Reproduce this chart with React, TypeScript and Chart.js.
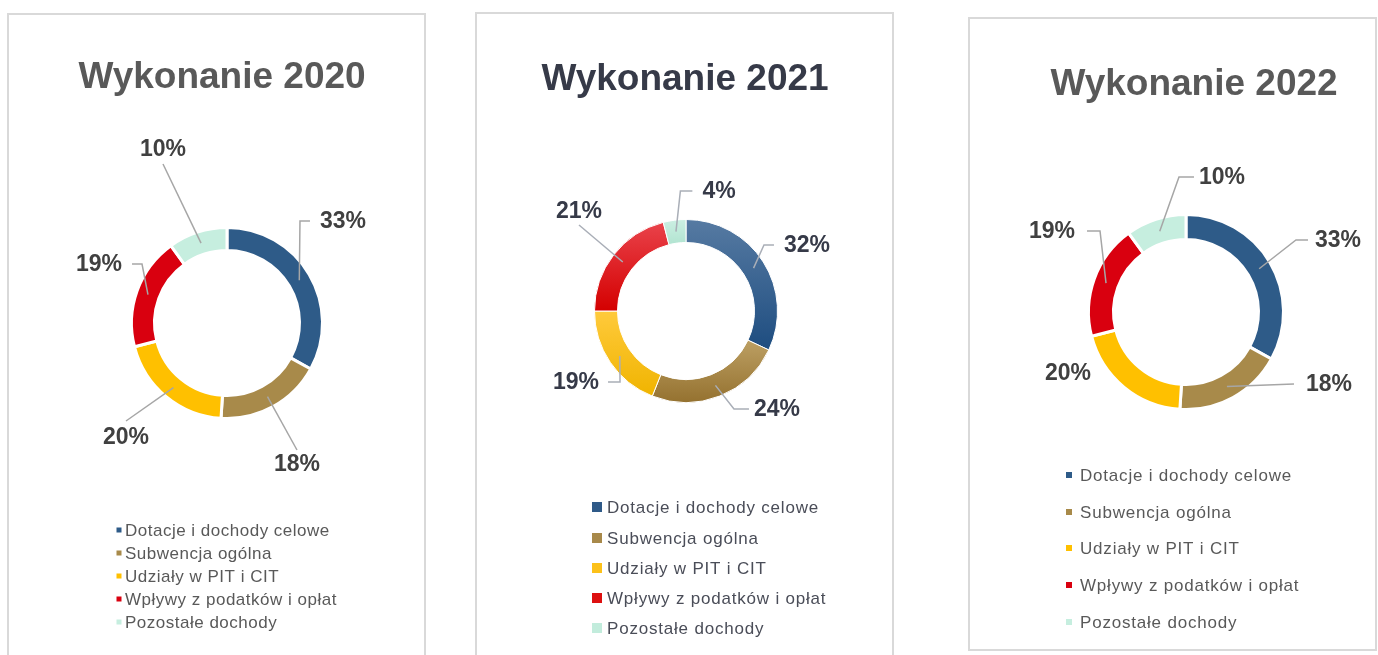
import React, { useEffect, useRef } from "react";
import { Chart, registerables } from "chart.js";

Chart.register(...registerables);

// ---------- data ----------
const categories = [
  "Dotacje i dochody celowe",
  "Subwencja ogólna",
  "Udziały w PIT i CIT",
  "Wpływy z podatków i opłat",
  "Pozostałe dochody",
];
const titles = ["Wykonanie 2020", "Wykonanie 2021", "Wykonanie 2022"];
const shares2020 = [33, 18, 20, 19, 10];
const shares2021 = [32, 24, 19, 21, 4];
const shares2022 = [33, 18, 20, 19, 10];

// ---------- colours ----------
const flatColors = ["#2e5b88", "#a88a4a", "#ffc000", "#d9000f", "#c6eedf"];
const gradTop = ["#567aa2", "#bc9f63", "#ffca3c", "#e9424a", "#cbefe2"];
const gradBottom = ["#1e4d80", "#957230", "#f0b400", "#d40000", "#b2e4d1"];
const legendColors2021 = ["#2f5a88", "#a8894a", "#fcc11a", "#dd1010", "#c2ecdc"];

const FONT = "'Liberation Sans', Arial, sans-serif";

type LabelPlace = {
  dx: number;
  dy: number;
  kind: "r" | "l" | "above" | "below" | "none";
  gap?: number;
  elbow?: number;
};

type PanelStyle = {
  box: { x: number; y: number; w: number; h: number };
  center: { x: number; y: number };
  outer: number;
  inner: number;
  borderW: number;
  gradient: boolean;
  title: { x: number; y: number; color: string; size: number };
  labelColor: string;
  labelSize: number;
  lineColor: string;
  labels: LabelPlace[];
  legend: {
    markerX: number;
    markerSize: number;
    textX: number;
    rows: number[];
    color: string;
    size: number;
    spacing: number;
    markerColors: string[];
  };
};

const panelStyles: PanelStyle[] = [
  {
    box: { x: 7, y: 13, w: 419, h: 660 },
    center: { x: 227, y: 323 },
    outer: 94,
    inner: 74,
    borderW: 3,
    gradient: false,
    title: { x: 222, y: 78, color: "#595959", size: 37 },
    labelColor: "#404040",
    labelSize: 23,
    lineColor: "#a6a6a6",
    labels: [
      { dx: 116, dy: -101, kind: "r", gap: 10, elbow: 10 },
      { dx: 70, dy: 142, kind: "below", gap: 7 },
      { dx: -101, dy: 115, kind: "below", gap: 9 },
      { dx: -128, dy: -58, kind: "l", gap: 10, elbow: 10 },
      { dx: -64, dy: -173, kind: "above", gap: 6 },
    ],
    legend: {
      markerX: 119,
      markerSize: 5,
      textX: 125,
      rows: [530, 553, 576, 599, 622],
      color: "#595959",
      size: 17,
      spacing: 0.5,
      markerColors: flatColors,
    },
  },
  {
    box: { x: 475, y: 12, w: 419, h: 660 },
    center: { x: 686, y: 311 },
    outer: 91,
    inner: 69,
    borderW: 1,
    gradient: true,
    title: { x: 685, y: 80, color: "#363a48", size: 37 },
    labelColor: "#363a48",
    labelSize: 23,
    lineColor: "#a9aeb7",
    labels: [
      { dx: 121, dy: -65, kind: "r", gap: 10, elbow: 10 },
      { dx: 91, dy: 99, kind: "r", gap: 5, elbow: 15 },
      { dx: -110, dy: 72, kind: "l", gap: 9, elbow: 12 },
      { dx: -107, dy: -99, kind: "above", gap: 5 },
      { dx: 33, dy: -119, kind: "r", gap: 10, elbow: 12 },
    ],
    legend: {
      markerX: 597,
      markerSize: 10,
      textX: 607,
      rows: [507, 538, 568, 598, 628],
      color: "#4a4d58",
      size: 17,
      spacing: 0.8,
      markerColors: legendColors2021,
    },
  },
  {
    box: { x: 968, y: 17, w: 409, h: 634 },
    center: { x: 1186, y: 312 },
    outer: 96,
    inner: 74,
    borderW: 3,
    gradient: false,
    title: { x: 1194, y: 85, color: "#595959", size: 37 },
    labelColor: "#404040",
    labelSize: 23,
    lineColor: "#a6a6a6",
    labels: [
      { dx: 152, dy: -71, kind: "r", gap: 7, elbow: 12 },
      { dx: 143, dy: 73, kind: "r", gap: 12, elbow: 0 },
      { dx: -118, dy: 62, kind: "none" },
      { dx: -134, dy: -80, kind: "l", gap: 12, elbow: 13 },
      { dx: 36, dy: -134, kind: "r", gap: 5, elbow: 15 },
    ],
    legend: {
      markerX: 1069,
      markerSize: 6,
      textX: 1080,
      rows: [475, 512, 548, 585, 622],
      color: "#595959",
      size: 17,
      spacing: 0.8,
      markerColors: flatColors,
    },
  },
];

const panelValues = [shares2020, shares2021, shares2022];

function sliceGradient(ctx: any, values: number[], p: PanelStyle) {
  const chart = ctx.chart;
  const area = chart.chartArea;
  const i = ctx.dataIndex;
  if (!area || i === undefined) return flatColors[i ?? 0];
  const cx = (area.left + area.right) / 2;
  const cy = (area.top + area.bottom) / 2;
  const total = values.reduce((a, b) => a + b, 0);
  let before = 0;
  for (let k = 0; k < i; k++) before += values[k];
  const a0 = -Math.PI / 2 + (before / total) * Math.PI * 2;
  const a1 = a0 + (values[i] / total) * Math.PI * 2;
  let ymin = Infinity;
  let ymax = -Infinity;
  for (let s = 0; s <= 40; s++) {
    const a = a0 + ((a1 - a0) * s) / 40;
    for (const r of [p.outer, p.inner]) {
      const y = cy + Math.sin(a) * r;
      ymin = Math.min(ymin, y);
      ymax = Math.max(ymax, y);
    }
  }
  const g = chart.ctx.createLinearGradient(0, ymin, 0, ymax);
  g.addColorStop(0, gradTop[i]);
  g.addColorStop(1, gradBottom[i]);
  return g;
}

function makeOverlay(p: PanelStyle, title: string, values: number[]) {
  return {
    id: "overlay",
    afterDraw(chart: any) {
      const ctx: CanvasRenderingContext2D = chart.ctx;
      const ox = p.box.x;
      const oy = p.box.y;
      ctx.save();
      // title
      ctx.fillStyle = p.title.color;
      ctx.font = `bold ${p.title.size}px ${FONT}`;
      ctx.textAlign = "center";
      ctx.textBaseline = "middle";
      ctx.fillText(title, p.title.x - ox, p.title.y - oy);

      // data labels with leader lines
      const meta = chart.getDatasetMeta(0);
      ctx.font = `bold ${p.labelSize}px ${FONT}`;
      meta.data.forEach((el: any, i: number) => {
        const { x, y, startAngle, endAngle, innerRadius, outerRadius } = el.getProps(
          ["x", "y", "startAngle", "endAngle", "innerRadius", "outerRadius"],
          true
        );
        const mid = (startAngle + endAngle) / 2;
        const rm = (innerRadius + outerRadius) / 2;
        const ax = x + Math.cos(mid) * rm;
        const ay = y + Math.sin(mid) * rm;
        const L = p.labels[i];
        const tx = x + L.dx;
        const ty = y + L.dy;
        const text = `${values[i]}%`;
        const w = ctx.measureText(text).width;
        const gap = L.gap ?? 8;
        const elbow = L.elbow ?? 0;
        const pts: [number, number][] = [];
        if (L.kind === "r") {
          const ex = tx - w / 2 - gap;
          const ey = ty - 1;
          pts.push([ex - elbow, ey], [ex, ey]);
        } else if (L.kind === "l") {
          const ex = tx + w / 2 + gap;
          const ey = ty - 1;
          pts.push([ex + elbow, ey], [ex, ey]);
        } else if (L.kind === "above") {
          pts.push([tx, ty + 8 + gap]);
        } else if (L.kind === "below") {
          pts.push([tx, ty - 8 - gap]);
        }
        if (pts.length) {
          ctx.strokeStyle = p.lineColor;
          ctx.lineWidth = 1.5;
          ctx.beginPath();
          ctx.moveTo(ax, ay);
          pts.forEach(([px, py]) => ctx.lineTo(px, py));
          ctx.stroke();
        }
        ctx.fillStyle = p.labelColor;
        ctx.textAlign = "center";
        ctx.textBaseline = "middle";
        ctx.fillText(text, tx, ty);
      });

      // legend
      const lg = p.legend;
      ctx.font = `${lg.size}px ${FONT}`;
      (ctx as any).letterSpacing = `${lg.spacing}px`;
      ctx.textAlign = "left";
      ctx.textBaseline = "middle";
      categories.forEach((name, i) => {
        const ry = lg.rows[i] - oy;
        ctx.fillStyle = lg.markerColors[i];
        ctx.fillRect(lg.markerX - lg.markerSize / 2 - ox, ry - lg.markerSize / 2, lg.markerSize, lg.markerSize);
        ctx.fillStyle = lg.color;
        ctx.fillText(name, lg.textX - ox, ry + 1);
      });
      (ctx as any).letterSpacing = "0px";
      ctx.restore();
    },
  };
}

function Panel({ index }: { index: number }) {
  const ref = useRef<HTMLCanvasElement>(null);
  const p = panelStyles[index];
  const values = panelValues[index];
  useEffect(() => {
    const canvas = ref.current;
    if (!canvas) return;
    const W = p.box.w;
    const H = p.box.h;
    const cx = p.center.x - p.box.x;
    const cy = p.center.y - p.box.y;
    const s = 100;
    const radius = p.outer + p.borderW / 2;
    const innerR = p.inner - p.borderW / 2;
    const chart = new Chart(canvas, {
      type: "doughnut",
      data: {
        labels: categories,
        datasets: [
          {
            data: values,
            backgroundColor: p.gradient
              ? (ctx: any) => sliceGradient(ctx, values, p)
              : flatColors,
            borderColor: "#ffffff",
            borderWidth: p.borderW,
          },
        ],
      },
      options: {
        responsive: false,
        animation: false,
        events: [],
        radius: radius,
        cutout: `${(innerR / radius) * 100}%`,
        rotation: 0,
        layout: {
          padding: { left: cx - s, right: W - cx - s, top: cy - s, bottom: H - cy - s },
        },
        plugins: {
          legend: { display: false },
          tooltip: { enabled: false },
          title: { display: false },
        },
      } as any,
      plugins: [makeOverlay(p, titles[index], values)],
    });
    return () => chart.destroy();
  }, []);
  return (
    <>
      <div
        style={{
          position: "absolute",
          left: p.box.x,
          top: p.box.y,
          width: p.box.w,
          height: p.box.h,
          border: "2px solid #d9d9d9",
          boxSizing: "border-box",
          background: "#ffffff",
        }}
      />
      <canvas
        ref={ref}
        width={p.box.w}
        height={p.box.h}
        style={{ position: "absolute", left: p.box.x, top: p.box.y }}
      />
    </>
  );
}

export default function App() {
  return (
    <div
      style={{
        position: "fixed",
        left: 0,
        top: 0,
        width: 1378,
        height: 655,
        overflow: "hidden",
        background: "#ffffff",
      }}
    >
      <Panel index={0} />
      <Panel index={1} />
      <Panel index={2} />
    </div>
  );
}
